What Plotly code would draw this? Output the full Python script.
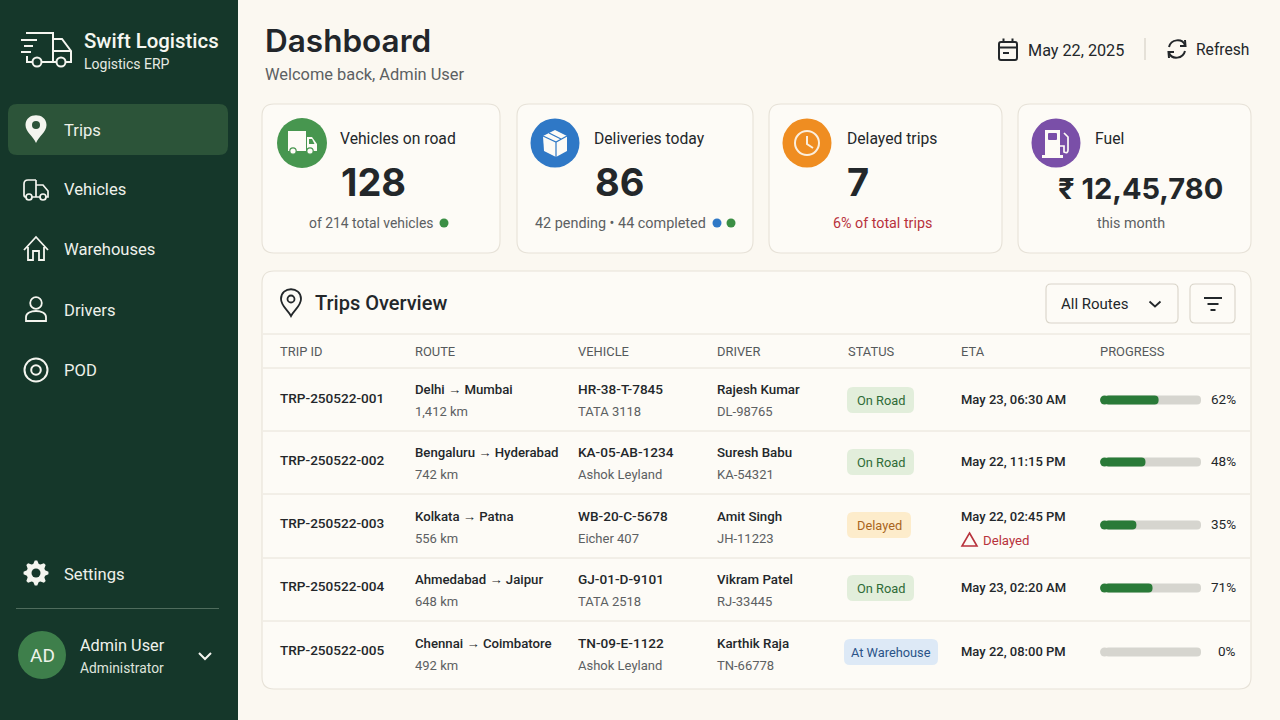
import math
import plotly.graph_objects as go

# table content
trip_ids = ["TRP-250522-001", "TRP-250522-002", "TRP-250522-003", "TRP-250522-004", "TRP-250522-005"]
routes = ["Delhi → Mumbai", "Bengaluru → Hyderabad", "Kolkata → Patna", "Ahmedabad → Jaipur", "Chennai → Coimbatore"]
distances = ["1,412 km", "742 km", "556 km", "648 km", "492 km"]
vehicles = ["HR-38-T-7845", "KA-05-AB-1234", "WB-20-C-5678", "GJ-01-D-9101", "TN-09-E-1122"]
models = ["TATA 3118", "Ashok Leyland", "Eicher 407", "TATA 2518", "Ashok Leyland"]
drivers = ["Rajesh Kumar", "Suresh Babu", "Amit Singh", "Vikram Patel", "Karthik Raja"]
licences = ["DL-98765", "KA-54321", "JH-11223", "RJ-33445", "TN-66778"]
statuses = ["On Road", "On Road", "Delayed", "On Road", "At Warehouse"]
etas = ["May 23, 06:30 AM", "May 22, 11:15 PM", "May 22, 02:45 PM", "May 23, 02:20 AM", "May 22, 08:00 PM"]
progress_labels = [62, 48, 35, 71, 0]
# bar lengths as drawn in the picture, they do not quite follow the printed percentages
progress_bars = [58, 45, 36, 52, 0]
columns = ["TRIP ID", "ROUTE", "VEHICLE", "DRIVER", "STATUS", "ETA", "PROGRESS"]
nav_items = ["Trips", "Vehicles", "Warehouses", "Drivers", "POD"]

# layout helpers, everything is in page pixels
FONT = "Roboto"
INK = "#23272a"
GREY = "#5c6062"
shapes = []
annotations = []


def text(x, y, s, size=14, color=INK, anchor="left", weight=400, family=FONT):
    if anchor == "left":
        x -= 1  # annotation boxes carry a pixel of padding
    annotations.append(dict(x=x, y=y, text=s, showarrow=False, xanchor=anchor, yanchor="middle",
                            xref="x", yref="y", borderpad=0,
                            font=dict(size=size, color=color, family=family, weight=weight)))


def path(d, fill="rgba(0,0,0,0)", line=None, width=1.5):
    shapes.append(dict(type="path", path=d, xref="x", yref="y", fillcolor=fill, layer="below",
                       line=dict(color=line or "rgba(0,0,0,0)", width=width if line else 0)))


def rrect(x0, y0, x1, y1, r, fill="rgba(0,0,0,0)", line=None, width=1):
    d = (f"M {x0+r},{y0} L {x1-r},{y0} Q {x1},{y0} {x1},{y0+r} L {x1},{y1-r} Q {x1},{y1} {x1-r},{y1} "
         f"L {x0+r},{y1} Q {x0},{y1} {x0},{y1-r} L {x0},{y0+r} Q {x0},{y0} {x0+r},{y0} Z")
    path(d, fill=fill, line=line, width=width)


def circle(cx, cy, r, fill="rgba(0,0,0,0)", line=None, width=1.5):
    shapes.append(dict(type="circle", x0=cx-r, x1=cx+r, y0=cy-r, y1=cy+r, xref="x", yref="y", layer="below",
                       fillcolor=fill, line=dict(color=line or "rgba(0,0,0,0)", width=width if line else 0)))


def hline(x0, x1, y, color, width=1):
    shapes.append(dict(type="line", x0=x0, x1=x1, y0=y, y1=y, xref="x", yref="y", layer="below",
                       line=dict(color=color, width=width)))


def chevron(cx, cy, color, w=6, h=4, width=2):
    path(f"M {cx-w},{cy-h+1} L {cx},{cy+h-1} L {cx+w},{cy-h+1}", line=color, width=width)


WHITE = "#f4f5ef"
SIDEBAR = "#15372a"
ACTIVE = "#2c5439"
BG = "#fbf8f1"
CARD = "#fdfbf6"
BORDER = "#e7e2d8"
RED = "#b8323c"
TRACK = "#d6d5cf"
FILL = "#2a7a38"

# sidebar
shapes.append(dict(type="rect", x0=0, x1=238, y0=0, y1=720, xref="x", yref="y", layer="below",
                   fillcolor=SIDEBAR, line=dict(width=0)))
# logo truck
path("M 26,33 L 53,33 L 53,62 L 42,62 M 33,62 L 27,62 L 27,56", line=WHITE, width=2)
path("M 53,39 L 62,39 L 71,51 L 71,62 L 66,62 M 57,62 L 42,62 M 53,51 L 71,51", line=WHITE, width=2)
path("M 21,40 L 37,40 M 24,46 L 33,46 M 21,52 L 31,52", line=WHITE, width=2)
circle(37, 62, 4.5, fill=SIDEBAR, line=WHITE, width=2)
circle(61, 62, 4.5, fill=SIDEBAR, line=WHITE, width=2)
text(84, 41, "Swift Logistics", size=20.4, color="#f6f7f1", weight=500)
text(84, 64, "Logistics ERP", size=14, color="#e6eae2")

rrect(8, 104, 228, 155, 9, fill=ACTIVE)
nav_y = [130, 189, 249, 310, 370]
for name, y in zip(nav_items, nav_y):
    text(64, y, name, size=16.6, color="#eef1ea")
# trips pin
path("M 36,143 C 33,136 25.5,132 25.5,125 C 25.5,112 46.5,112 46.5,125 C 46.5,132 39,136 36,143 Z", fill=WHITE)
circle(36, 125, 4, fill=ACTIVE)
# vehicles icon
path("M 36,180 L 28,180 Q 24,180 24,184 L 24,195 Q 24,197 26,197 M 36,180 L 36,197 L 32,197 M 36,185 L 43,185 L 48,191 L 48,197 L 46,197 M 40,197 L 36,197",
     line=WHITE, width=1.7)
circle(29, 197, 3, fill=SIDEBAR, line=WHITE, width=1.7)
circle(43, 197, 3, fill=SIDEBAR, line=WHITE, width=1.7)
# warehouse icon
path("M 24,250 L 36,237 L 48,250 M 28,247 L 28,260 L 33,260 L 33,251 L 39,251 L 39,260 L 44,260 L 44,247", line=WHITE, width=1.8)
# driver icon
circle(36, 303, 5.8, line=WHITE, width=1.8)
path("M 26,321 L 26,317 C 26,309 46,309 46,317 L 46,321 Z", line=WHITE, width=1.8)
# pod icon
circle(36, 370, 11.5, line=WHITE, width=2)
circle(36, 370, 4.8, line=WHITE, width=2)
# settings gear
teeth = 8
pts = []
for i in range(teeth * 4):
    a = 2 * math.pi * (i - 0.5) / (teeth * 4)
    r = 12.5 if i % 4 in (0, 1) else 9.5
    pts.append(f"{36 + r * math.cos(a):.2f},{573 + r * math.sin(a):.2f}")
path("M " + " L ".join(pts) + " Z", fill=WHITE)
circle(36, 573, 4.5, fill=SIDEBAR)
text(64, 574, "Settings", size=16.6, color="#eef1ea")
hline(16, 219, 608.5, "#4f6c5d", 1)
circle(42, 655, 24, fill="#3e7f4b")
text(42, 655, "AD", size=19, color="#eef3ea", anchor="center")
text(80, 645, "Admin User", size=16.3, color="#f0f2ec")
text(80, 668, "Administrator", size=13.8, color="#dfe4dc")
chevron(205, 656, WHITE, w=6, h=4)

# page header
text(265, 40, "Dashboard", size=31.5, weight=600, family="Inter", color="#22262a")
text(265, 74, "Welcome back, Admin User", size=16.4, color=GREY)
rrect(999, 42, 1017, 60, 2, line=INK, width=2)
path("M 999,47.5 L 1017,47.5 M 1003.5,38.5 L 1003.5,43 M 1012.5,38.5 L 1012.5,43", line=INK, width=2)
path("M 1003,53 L 1009,53", line=INK, width=2)
text(1028, 50, "May 22, 2025", size=16.2)
shapes.append(dict(type="line", x0=1145, x1=1145, y0=38, y1=60, xref="x", yref="y", layer="below",
                   line=dict(color="#cfcabf", width=1)))
path("M 1169,47 C 1171,39 1182,38 1185,45 M 1185,51 C 1183,59 1172,60 1169,53", line=INK, width=2)
path("M 1185,40 L 1185.5,46 L 1180,46 M 1169,58 L 1168.5,52 L 1174,52", line=INK, width=2)
text(1196, 50, "Refresh", size=15.6)

# summary cards
card_x = [(262, 500), (517, 753), (769, 1002), (1018, 1251)]
for x0, x1 in card_x:
    rrect(x0, 104, x1, 253, 12, fill=CARD, line=BORDER, width=1.1)

circle(302, 143, 25, fill="#47964f")
circle(555, 143, 24.5, fill="#2f78c6")
circle(807, 143, 24.5, fill="#ef8d21")
circle(1056, 143, 24.5, fill="#7a4fa8")
# truck glyph
path("M 288,131 L 306,131 L 306,151 L 288,151 Z M 307,137 L 312,137 L 317,144 L 317,151 L 307,151 Z", fill="#fdfbf6")
path("M 309,139 L 312,139 L 314.5,144 L 309,144 Z", fill="#47964f")
circle(293, 151, 3.2, fill="#fdfbf6", line="#47964f", width=1.2)
circle(310, 151, 3.2, fill="#fdfbf6", line="#47964f", width=1.2)
# box glyph
path("M 543,136 L 555,130 L 567,136 L 567,151 L 556,157 L 544,151 Z", fill="#fdfbf6")
path("M 543,136 L 556,142 L 567,136 M 556,142 L 556,157 M 549,133 L 561,139", line="#2f78c6", width=1.2)
# clock glyph
circle(807, 143, 12, line="#fbeedd", width=2)
path("M 807,136 L 807,144 L 813,148", line="#fbeedd", width=2)
# pump glyph
path("M 1045,130 L 1060,130 L 1060,155 L 1063,155 L 1063,158 L 1042,158 L 1042,155 L 1045,155 Z", fill="#fdfbf6")
rrect(1048, 133, 1057, 140, 1, fill="#7a4fa8")
path("M 1060,146 L 1064,146 L 1064,152 Q 1068,154 1068,150 L 1068,137 L 1064,133", line="#fdfbf6", width=1.7)

text(340, 138, "Vehicles on road", size=15.7)
text(594, 138, "Deliveries today", size=15.7)
text(847, 138, "Delayed trips", size=15.7)
text(1095, 138, "Fuel", size=15.7)
text(341, 182, "128", size=38, weight=700, family="Inter")
text(595, 182, "86", size=38, weight=700, family="Inter")
text(847, 182, "7", size=38, weight=700, family="Inter")
text(1140, 188, "₹ 12,45,780", size=29, weight=700, family="Inter", anchor="center")
text(309, 223, "of 214 total vehicles", size=13.9, color=GREY)
circle(444, 223, 4.5, fill="#3b8f45")
text(535, 223, "42 pending • 44 completed", size=14.4, color=GREY)
circle(717, 223, 4.5, fill="#2f78c6")
circle(731, 223, 4.5, fill="#3b8f45")
text(833, 223, "6% of total trips", size=14.3, color=RED)
text(1131, 223, "this month", size=14.3, color=GREY, anchor="center")

# trips card
rrect(262, 271, 1251, 689, 12, fill=CARD, line=BORDER, width=1.1)
path("M 291,316 C 288,310 281,306 281,299 C 281,286 301,286 301,299 C 301,306 294,310 291,316 Z", line=INK, width=1.8)
circle(291, 299, 3.5, line=INK, width=1.8)
text(315, 303, "Trips Overview", size=20, weight=500)
rrect(1046, 284, 1178, 323, 5, fill=CARD, line="#d9d4c9", width=1.1)
text(1061, 304, "All Routes", size=15)
chevron(1155, 304, INK, w=5.5, h=3.5, width=1.8)
rrect(1190, 284, 1235, 323, 5, fill=CARD, line="#d9d4c9", width=1.1)
path("M 1204,298 L 1222,298 M 1207.5,304 L 1218.5,304 M 1210.5,310 L 1215.5,310", line=INK, width=1.8)

# column header band and row rules
hline(263, 1250, 334, BORDER, 1)
column_x = [280, 415, 578, 717, 848, 961, 1100]
for name, x in zip(columns, column_x):
    text(x, 351, name, size=12.9, color="#55595b")
row_lines = [368, 431, 494, 558, 621]
for y in row_lines:
    hline(263, 1250, y, BORDER, 1)

# rows
bar_mid = [400, 462, 525, 588, 652]
text_mid = [400, 463, 527, 590, 654]
badge_style = {
    "On Road": ("#e2eedb", "#2f6b37", 847, 914),
    "Delayed": ("#fdeccb", "#a9651d", 847, 911),
    "At Warehouse": ("#dde9f6", "#2a5388", 844, 938),
}
for i, y in enumerate(bar_mid):
    t = text_mid[i]
    text(280, y - 2, trip_ids[i], size=13.6, weight=500)
    text(415, t - 11, routes[i], size=13.2, weight=500)
    text(415, t + 11, distances[i], size=13, color=GREY)
    text(578, t - 11, vehicles[i], size=13.6, weight=500)
    text(578, t + 11, models[i], size=13, color=GREY)
    text(717, t - 11, drivers[i], size=13.3, weight=500)
    text(717, t + 11, licences[i], size=13, color=GREY)
    fill, color, bx0, bx1 = badge_style[statuses[i]]
    rrect(bx0, y - 13, bx1, y + 13, 6, fill=fill)
    text((bx0 + bx1) / 2, y, statuses[i], size=12.8, color=color, anchor="center")
    if statuses[i] == "Delayed":
        text(961, y - 9, etas[i], size=13, weight=500)
        path(f"M 969.5,{y+8} L 977,{y+21} L 962,{y+21} Z", line=RED, width=1.6)
        text(983, y + 15, "Delayed", size=13.2, color=RED)
    else:
        text(961, y - 1, etas[i], size=13, weight=500)
    text(1237, y - 1, f"{progress_labels[i]}%", size=13.5, anchor="right")

fig = go.Figure()
# progress tracks and fills share a 0 to 100 axis sitting over the last column
# bars only round their far end, so the near end is a round marker and the bar starts at its centre
cap = 4.5
fig.add_trace(go.Bar(x=[100 - cap] * len(progress_bars), base=cap, y=bar_mid, orientation="h", width=9,
                     xaxis="x2", yaxis="y", hoverinfo="skip", showlegend=False,
                     marker=dict(color=TRACK, line=dict(width=0), cornerradius=4)))
fig.add_trace(go.Bar(x=[max(v - cap, 0) for v in progress_bars], base=cap, y=bar_mid, orientation="h", width=9,
                     xaxis="x2", yaxis="y", showlegend=False,
                     marker=dict(color=FILL, line=dict(width=0), cornerradius=4)))
fig.add_trace(go.Scatter(x=[cap] * len(progress_bars), y=bar_mid, mode="markers", xaxis="x2", yaxis="y",
                         cliponaxis=False, hoverinfo="skip", showlegend=False,
                         marker=dict(size=9, line=dict(width=0),
                                     color=[FILL if v > 0 else TRACK for v in progress_bars])))

fig.update_layout(
    width=1280, height=720, margin=dict(l=0, r=0, t=0, b=0, pad=0),
    paper_bgcolor=BG, plot_bgcolor="rgba(0,0,0,0)", barmode="overlay",
    xaxis=dict(range=[0, 1280], domain=[0, 1], visible=False, fixedrange=True),
    yaxis=dict(range=[720, 0], domain=[0, 1], visible=False, fixedrange=True),
    xaxis2=dict(range=[0, 100], domain=[1100 / 1280, 1201 / 1280], anchor="y", visible=False, fixedrange=True),
    shapes=shapes, annotations=annotations, font=dict(family=FONT),
)
fig.write_html("out.html", config=dict(displayModeBar=False),
               post_script="document.body.style.margin='0';document.body.style.background='" + BG + "';")
